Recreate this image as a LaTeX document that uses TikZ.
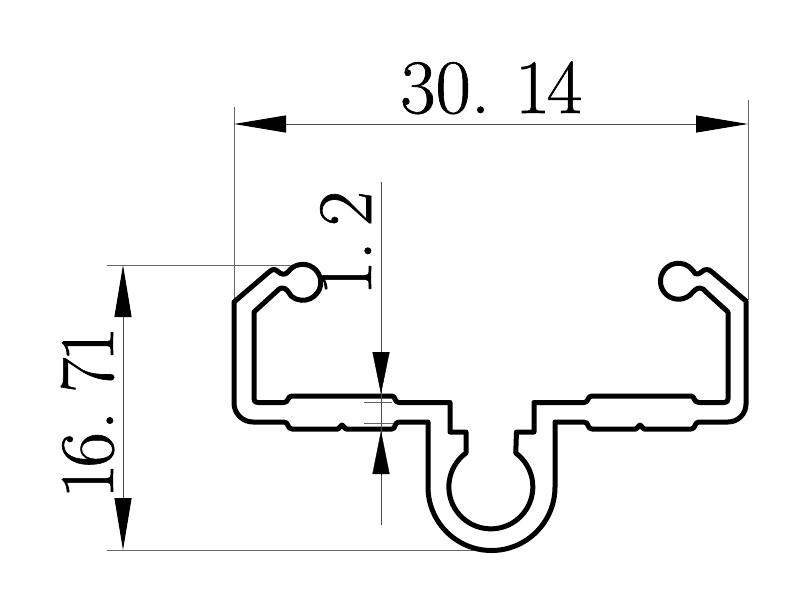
\documentclass[tikz,border=0pt]{standalone}
\usepackage{fontspec}
\newfontfamily\dimfont[FakeBold=0.8]{Latin Modern Roman}
\usetikzlibrary{arrows.meta}
\tikzset{
  profile/.style={draw=black,line width=5pt,line join=round},
  extline/.style={draw=black!60,line width=0.9pt},
  dimline/.style={draw=black!70,line width=0.9pt},
  bigtip/.style={{Triangle[length=#1,width=17pt,sep=0pt,black]}-{Triangle[length=#1,width=17pt,sep=0pt,black]}},
  dimtext/.style={font=\dimfont\fontsize{77}{77}\selectfont,inner sep=0pt,anchor=base west},
}
\begin{document}
\begin{tikzpicture}[x=1pt,y=1pt,yscale=-1]
\useasboundingbox[fill=white] (0,0) rectangle (800,600);

% extension lines
\coordinate (topL) at (234,124); \coordinate (topR) at (748,124);
\coordinate (leftT) at (123,265); \coordinate (leftB) at (123,550);
\draw[extline] (234,107) -- (234,302);
\draw[extline] (748,100) -- (748,300);
\draw[extline] (107,265) -- (303,265);
\draw[extline] (107,550) -- (491,550);
\draw[extline] (364,402) -- (392,402);
\draw[extline] (364,423) -- (393,423);

% profile
\draw[profile]
  (234,302) -- (269,272)
  .. controls (273,268.5) and (275,269) .. (278,271.5)
  .. controls (281,274.5) and (285,275.5) .. (288,272)
  arc[start angle=215,end angle=490,radius=18pt]
  .. controls (288,291) and (286,288) .. (282,288)
  .. controls (280,288) and (279,289) .. (277,291)
  -- (254,312) -- (254,399)
  .. controls (254,401.5) and (255,402.5) .. (258,402.5)
  -- (284,402.5) .. controls (289,402.5) and (287,396) .. (292,396)
  -- (392,396) .. controls (396,396) and (394,402.5) .. (399,402.5)
  -- (450,402.5) -- (450,432) -- (466,432) -- (466,453)
  arc[start angle=233.7,end angle=-53.7,radius=42pt]
  -- (516.5,432) -- (534,432) -- (534,402.5)
  -- (584,402.5) .. controls (589,402.5) and (587,396) .. (592,396)
  -- (691,396) .. controls (695,396) and (693,402.5) .. (699,402.5)
  -- (724,402.5) .. controls (727,402.5) and (728,401.5) .. (728,399)
  -- (728,312) -- (706,292)
  .. controls (704,290) and (703,288) .. (700,288)
  .. controls (696,288) and (694,291) .. (690,295)
  arc[start angle=50,end angle=325,radius=18pt]
  .. controls (695,275.5) and (699,274.5) .. (702,271.5)
  .. controls (705,269) and (708,268.5) .. (712,272)
  -- (746,301) -- (746,404)
  arc[start angle=0,end angle=90,radius=18pt]
  -- (699,422) .. controls (694,422) and (696,429) .. (691,429)
  -- (644,429) -- (640,425) -- (636,429)
  -- (592,429) .. controls (587,429) and (589,422) .. (584,422)
  -- (555,422) -- (555,487)
  arc[start angle=0,end angle=180,radius=63.5pt]
  -- (428,422) -- (399,422)
  .. controls (394,422) and (396,429) .. (392,429)
  -- (346,429) -- (342,425) -- (338,429)
  -- (292,429) .. controls (287,429) and (289,422) .. (284,422)
  -- (253,422)
  arc[start angle=90,end angle=180,radius=19pt]
  -- cycle;

% dimension lines
\draw[dimline,bigtip=52pt] (topL) -- (topR);
\draw[dimline,bigtip=52pt] (leftT) -- (leftB);
\coordinate (smallT) at (381,182); \coordinate (smallB) at (381,525);
\coordinate (arrT) at (381,352); \coordinate (arrTtip) at (381,394);
\coordinate (arrB) at (381,474); \coordinate (arrBtip) at (381,431);
\draw[dimline] (smallT) -- (smallB);
\draw[-{Triangle[length=42pt,width=17pt,sep=0pt,black]}] (arrT) -- (arrTtip);
\draw[-{Triangle[length=43pt,width=17pt,sep=0pt,black]}] (arrB) -- (arrBtip);

% labels
\node[dimtext] (w) at (400,113) {30.\kern24.8pt 1\kern-3.5pt 4};
\node[dimtext,rotate=90] (h) at (113,499) {1\kern-4pt 6\kern2pt.\kern18pt 7\kern-4.5pt 1};
\node[dimtext,rotate=90] (t) at (371,296) {1.\kern15pt 2};
\end{tikzpicture}
\end{document}
